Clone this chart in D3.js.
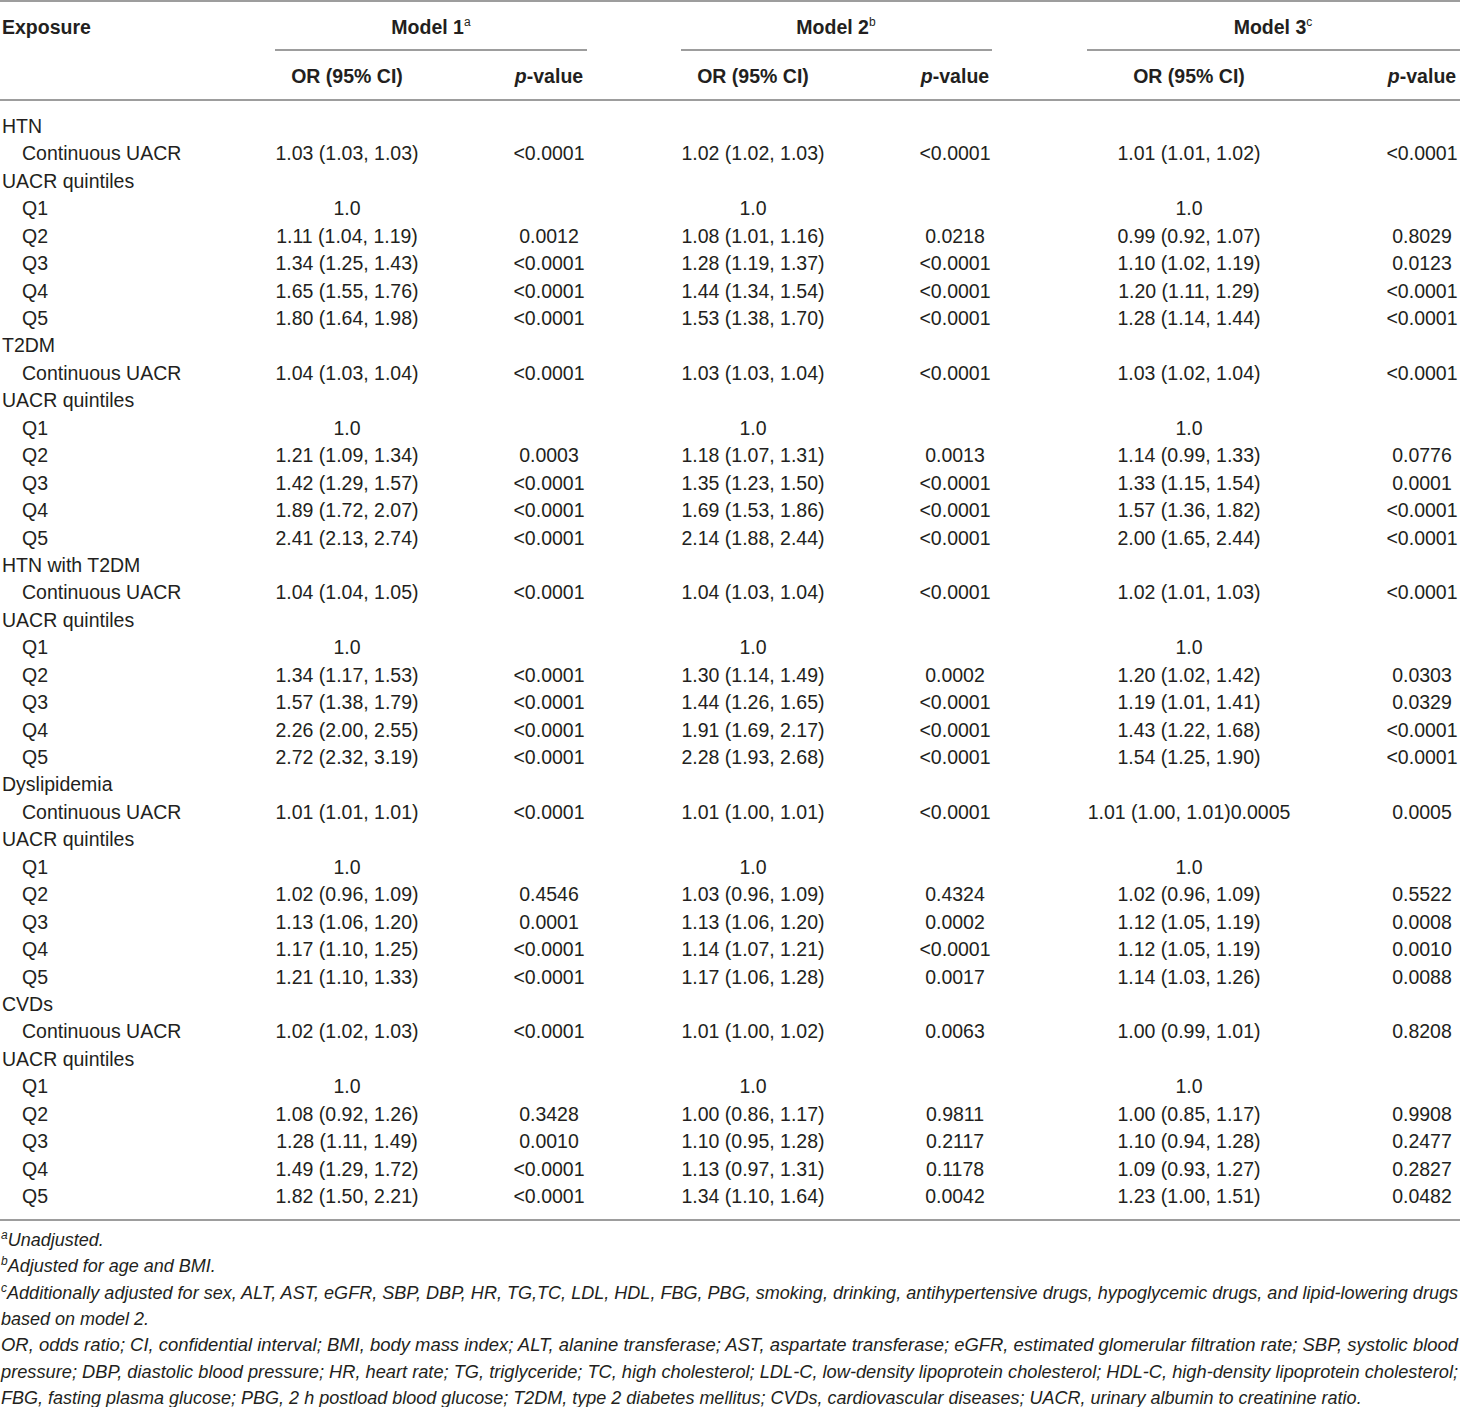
<!DOCTYPE html>
<html><head><meta charset="utf-8">
<script src="https://cdn.jsdelivr.net/npm/d3@7"></script>
<style>
html,body{margin:0;padding:0;background:#fff;}
svg text{font-family:"Liberation Sans",Arial,Helvetica,sans-serif;fill:#231f20;}
</style></head>
<body><svg id="c" width="1460" height="1407"></svg>
<script>
const groups = ["HTN","T2DM","HTN with T2DM","Dyslipidemia","CVDs"];
const subRows = ["Continuous UACR","UACR quintiles","Q1","Q2","Q3","Q4","Q5"];
const models = ["Model 1","Model 2","Model 3"];
const modelSup = ["a","b","c"];
// values per group: Continuous, Q1..Q5
const model1OR = [
 ["1.03 (1.03, 1.03)","1.0","1.11 (1.04, 1.19)","1.34 (1.25, 1.43)","1.65 (1.55, 1.76)","1.80 (1.64, 1.98)"],
 ["1.04 (1.03, 1.04)","1.0","1.21 (1.09, 1.34)","1.42 (1.29, 1.57)","1.89 (1.72, 2.07)","2.41 (2.13, 2.74)"],
 ["1.04 (1.04, 1.05)","1.0","1.34 (1.17, 1.53)","1.57 (1.38, 1.79)","2.26 (2.00, 2.55)","2.72 (2.32, 3.19)"],
 ["1.01 (1.01, 1.01)","1.0","1.02 (0.96, 1.09)","1.13 (1.06, 1.20)","1.17 (1.10, 1.25)","1.21 (1.10, 1.33)"],
 ["1.02 (1.02, 1.03)","1.0","1.08 (0.92, 1.26)","1.28 (1.11, 1.49)","1.49 (1.29, 1.72)","1.82 (1.50, 2.21)"]];
const model1P = [
 ["<0.0001","","0.0012","<0.0001","<0.0001","<0.0001"],
 ["<0.0001","","0.0003","<0.0001","<0.0001","<0.0001"],
 ["<0.0001","","<0.0001","<0.0001","<0.0001","<0.0001"],
 ["<0.0001","","0.4546","0.0001","<0.0001","<0.0001"],
 ["<0.0001","","0.3428","0.0010","<0.0001","<0.0001"]];
const model2OR = [
 ["1.02 (1.02, 1.03)","1.0","1.08 (1.01, 1.16)","1.28 (1.19, 1.37)","1.44 (1.34, 1.54)","1.53 (1.38, 1.70)"],
 ["1.03 (1.03, 1.04)","1.0","1.18 (1.07, 1.31)","1.35 (1.23, 1.50)","1.69 (1.53, 1.86)","2.14 (1.88, 2.44)"],
 ["1.04 (1.03, 1.04)","1.0","1.30 (1.14, 1.49)","1.44 (1.26, 1.65)","1.91 (1.69, 2.17)","2.28 (1.93, 2.68)"],
 ["1.01 (1.00, 1.01)","1.0","1.03 (0.96, 1.09)","1.13 (1.06, 1.20)","1.14 (1.07, 1.21)","1.17 (1.06, 1.28)"],
 ["1.01 (1.00, 1.02)","1.0","1.00 (0.86, 1.17)","1.10 (0.95, 1.28)","1.13 (0.97, 1.31)","1.34 (1.10, 1.64)"]];
const model2P = [
 ["<0.0001","","0.0218","<0.0001","<0.0001","<0.0001"],
 ["<0.0001","","0.0013","<0.0001","<0.0001","<0.0001"],
 ["<0.0001","","0.0002","<0.0001","<0.0001","<0.0001"],
 ["<0.0001","","0.4324","0.0002","<0.0001","0.0017"],
 ["0.0063","","0.9811","0.2117","0.1178","0.0042"]];
const model3OR = [
 ["1.01 (1.01, 1.02)","1.0","0.99 (0.92, 1.07)","1.10 (1.02, 1.19)","1.20 (1.11, 1.29)","1.28 (1.14, 1.44)"],
 ["1.03 (1.02, 1.04)","1.0","1.14 (0.99, 1.33)","1.33 (1.15, 1.54)","1.57 (1.36, 1.82)","2.00 (1.65, 2.44)"],
 ["1.02 (1.01, 1.03)","1.0","1.20 (1.02, 1.42)","1.19 (1.01, 1.41)","1.43 (1.22, 1.68)","1.54 (1.25, 1.90)"],
 ["1.01 (1.00, 1.01)0.0005","1.0","1.02 (0.96, 1.09)","1.12 (1.05, 1.19)","1.12 (1.05, 1.19)","1.14 (1.03, 1.26)"],
 ["1.00 (0.99, 1.01)","1.0","1.00 (0.85, 1.17)","1.10 (0.94, 1.28)","1.09 (0.93, 1.27)","1.23 (1.00, 1.51)"]];
const model3P = [
 ["<0.0001","","0.8029","0.0123","<0.0001","<0.0001"],
 ["<0.0001","","0.0776","0.0001","<0.0001","<0.0001"],
 ["<0.0001","","0.0303","0.0329","<0.0001","<0.0001"],
 ["0.0005","","0.5522","0.0008","0.0010","0.0088"],
 ["0.8208","","0.9908","0.2477","0.2827","0.0482"]];
const footnotes = [
 {sup:"a", text:"Unadjusted."},
 {sup:"b", text:"Adjusted for age and BMI."},
 {sup:"c", text:"Additionally adjusted for sex, ALT, AST, eGFR, SBP, DBP, HR, TG,TC, LDL, HDL, FBG, PBG, smoking, drinking, antihypertensive drugs, hypoglycemic drugs, and lipid-lowering drugs", fill:true},
 {sup:"", text:"based on model 2."},
 {sup:"", text:"OR, odds ratio; CI, confidential interval; BMI, body mass index; ALT, alanine transferase; AST, aspartate transferase; eGFR, estimated glomerular filtration rate; SBP, systolic blood", fill:true},
 {sup:"", text:"pressure; DBP, diastolic blood pressure; HR, heart rate; TG, triglyceride; TC, high cholesterol; LDL-C, low-density lipoprotein cholesterol; HDL-C, high-density lipoprotein cholesterol;", fill:true},
 {sup:"", text:"FBG, fasting plasma glucose; PBG, 2 h postload blood glucose; T2DM, type 2 diabetes mellitus; CVDs, cardiovascular diseases; UACR, urinary albumin to creatinine ratio."}];

const W = 1460;
const svg = d3.select("#c");
const FS = 19.5;
const lineColor = "#9d9d9d";

// build rows
const rows = [];
groups.forEach((g, gi) => {
  rows.push({label: g, indent: 0, vals: null});
  subRows.forEach(s => {
    const indent = (s === "UACR quintiles") ? 0 : 1;
    let vi = null;
    if (s === "Continuous UACR") vi = 0;
    else if (s[0] === "Q") vi = +s.slice(1);
    rows.push({label: s, indent, gi, vi});
  });
});

const y = d3.scalePoint().domain(d3.range(rows.length)).range([126, 1196]);
const colKeys = ["or1","p1","or2","p2","or3","p3"];
const x = d3.scaleOrdinal().domain(colKeys).range([347, 549, 753, 955, 1189, 1422]);
const modelX = d3.scaleOrdinal().domain(models).range([431, 836, 1273]);
const spans = [[275,587],[681,992],[1087,1460]];
const sources = {or1:model1OR, p1:model1P, or2:model2OR, p2:model2P, or3:model3OR, p3:model3P};

// lines
const hl = (y0, x0, x1, w) => svg.append("line").attr("x1", x0).attr("x2", x1).attr("y1", y0).attr("y2", y0)
  .attr("stroke", lineColor).attr("stroke-width", w);
hl(1, 0, W, 2);
hl(100, 0, W, 2);
hl(1220, 0, W, 2);
spans.forEach(s => hl(50, s[0], s[1], 1.8));

const base = 7;
// header
svg.append("text").attr("x", 2).attr("y", 27 + base).attr("font-size", FS).attr("font-weight", "bold").text("Exposure");
models.forEach((m, i) => {
  const t = svg.append("text").attr("x", modelX(m)).attr("y", 27 + base).attr("font-size", FS)
    .attr("font-weight", "bold").attr("text-anchor", "middle");
  t.append("tspan").text(m);
  t.append("tspan").attr("font-size", 12).attr("dy", -8).attr("font-weight", "normal").text(modelSup[i]);
});
colKeys.forEach(k => {
  const t = svg.append("text").attr("x", x(k)).attr("y", 76 + base).attr("font-size", FS)
    .attr("font-weight", "bold").attr("text-anchor", "middle");
  if (k[0] === "o") t.text("OR (95% CI)");
  else { t.append("tspan").attr("font-style", "italic").text("p"); t.append("tspan").text("-value"); }
});

// body
const g = svg.append("g");
rows.forEach((r, i) => {
  const yy = y(i) + base;
  g.append("text").attr("x", r.indent ? 22 : 2).attr("y", yy).attr("font-size", FS).text(r.label);
  if (r.vi !== null && r.vi !== undefined) {
    colKeys.forEach(k => {
      const v = sources[k][r.gi][r.vi];
      if (v) g.append("text").attr("x", x(k)).attr("y", yy).attr("font-size", FS)
        .attr("text-anchor", "middle").text(v);
    });
  }
});

// footnotes
const fy = d3.scalePoint().domain(d3.range(footnotes.length)).range([1240, 1398]);
footnotes.forEach((f, i) => {
  const t = svg.append("text").attr("x", 1).attr("y", fy(i) + 6).attr("font-size", 18).attr("font-style", "italic");
  if (f.sup) t.append("tspan").attr("font-size", 12).attr("dy", -7).text(f.sup);
  const main = t.append("tspan").attr("dy", f.sup ? 7 : 0).text(f.text);
  if (f.fill) {
    const node = t.node();
    const w = node.getComputedTextLength();
    const target = 1457;
    if (w > target || w < target) {
      t.attr("textLength", target).attr("lengthAdjust", "spacingAndGlyphs");
    }
  }
});
</script></body></html>
